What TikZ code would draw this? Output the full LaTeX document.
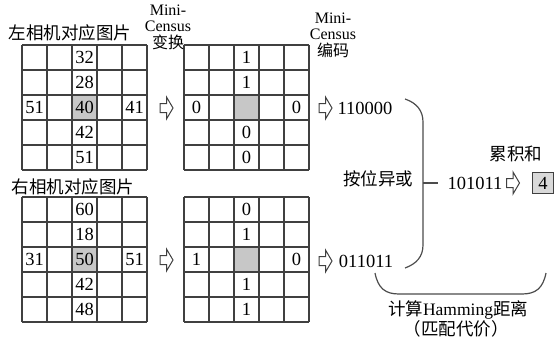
\documentclass[tikz,border=0pt]{standalone}
\usepackage{fontspec}
\setmainfont{Liberation Serif}
\newfontfamily\cjkfont{Noto Sans CJK SC}
\begin{document}
\begin{tikzpicture}[x=1pt,y=-1pt,
  gridline/.style={draw=black!75, line width=1.1pt},
  cellgray/.style={fill=black!22},
  num/.style={font=\fontsize{18.5}{18.5}\selectfont, inner sep=0pt},
  cjk/.style={font=\fontsize{17.5}{17.5}\selectfont\cjkfont, inner sep=0pt},
  stacklabel/.style={align=center, inner sep=0pt, font=\fontsize{16}{16.5}\selectfont},
  braceline/.style={draw=black!70, line width=1.2pt},
  arrowline/.style={draw=black!75, line width=1pt, fill=white},
  pics/cgrid/.style={code={
    \fill[cellgray] (51,51) rectangle (74,74);
    \foreach \i in {0,...,5} {
      \draw[gridline] (25*\i,0) -- (25*\i,125);
      \draw[gridline] (0,25*\i) -- (125,25*\i);
    }
  }},
  pics/hollow/.style={code={
    \draw[arrowline] (-6.5,-4.5) -- (0,-4.5) -- (0,-11) -- (6.5,0) -- (0,11) -- (0,4.5) -- (-6.5,4.5) -- cycle;
  }}
]
\useasboundingbox (0,0) rectangle (557,338);

% grids
\pic (gl1) at (22,45) {cgrid};
\pic (gm1) at (184,45) {cgrid};
\pic (gl2) at (22,197) {cgrid};
\pic (gm2) at (184,197) {cgrid};

% titles
\node[cjk] (tl) at (70,33) {左相机对应图片};
\node[cjk] (tr) at (73,187) {右相机对应图片};
\node[stacklabel] (mc1) at (168,27) {Mini-\\Census\\{\cjkfont 变换}};
\node[stacklabel] (mc2) at (333,35) {Mini-\\Census\\{\cjkfont 编码}};

% top left grid numbers
\node[num] (a1) at (84.5,57.5) {32};
\node[num] (a2) at (84.5,82.5) {28};
\node[num] (a3) at (84.5,107.5) {40};
\node[num] (a4) at (84.5,132.5) {42};
\node[num] (a5) at (84.5,157.5) {51};
\node[num] (a6) at (34.5,107.5) {51};
\node[num] (a7) at (134.5,107.5) {41};

% top middle grid
\node[num] (b1) at (246.5,57.5) {1};
\node[num] (b2) at (246.5,82.5) {1};
\node[num] (b3) at (246.5,132.5) {0};
\node[num] (b4) at (246.5,157.5) {0};
\node[num] (b5) at (196.5,107.5) {0};
\node[num] (b6) at (296.5,107.5) {0};

% bottom left grid numbers
\node[num] (c1) at (84.5,209.5) {60};
\node[num] (c2) at (84.5,234.5) {18};
\node[num] (c3) at (84.5,259.5) {50};
\node[num] (c4) at (84.5,284.5) {42};
\node[num] (c5) at (84.5,309.5) {48};
\node[num] (c6) at (34.5,259.5) {31};
\node[num] (c7) at (134.5,259.5) {51};

% bottom middle grid
\node[num] (d1) at (246.5,209.5) {0};
\node[num] (d2) at (246.5,234.5) {1};
\node[num] (d3) at (246.5,284.5) {1};
\node[num] (d4) at (246.5,309.5) {1};
\node[num] (d5) at (196.5,259.5) {1};
\node[num] (d6) at (296.5,259.5) {0};

% hollow arrows
\pic (h1) at (166.5,108) {hollow};
\pic (h2) at (166.5,260) {hollow};
\pic (h3) at (325.5,108) {hollow};
\pic (h4) at (325.5,261) {hollow};
\pic (h5) at (513,183) {hollow};

% codes
\node[num] (code1) at (365,108) {110000};
\node[num] (code2) at (366,261) {011011};
\node[num] (xr) at (475,183) {101011};
\node[cjk] (xor) at (378,179) {按位异或};
\node[cjk] (sum) at (516,154) {累积和};
\node[num, draw=black!75, line width=1pt, fill=black!15, minimum width=21pt, minimum height=21pt] (res) at (543,183) {4};

% brace
\coordinate (bt) at (405,99);
\coordinate (bb) at (405,268);
\coordinate (bm) at (423,183);
\coordinate (be) at (438,183);
\draw[braceline] (bt) .. controls (417,103) and (423,111) .. (423,122) -- (423,245) .. controls (423,257) and (416,264) .. (bb);
\draw[braceline] (bm) -- (be);

% bottom bracket
\coordinate (ul) at (375,273);
\coordinate (ur) at (546,273);
\draw[braceline] (ul) .. controls (378,288) and (385,294) .. (399,294) -- (522,294) .. controls (536,294) and (543,288) .. (ur);
\node[font=\fontsize{17.5}{17.5}\selectfont, inner sep=0pt] (ham) at (458,310) {{\cjkfont 计算}Hamming{\cjkfont 距离}};
\node[cjk] (cost) at (456,329) {（匹配代价）};
\end{tikzpicture}
\end{document}
